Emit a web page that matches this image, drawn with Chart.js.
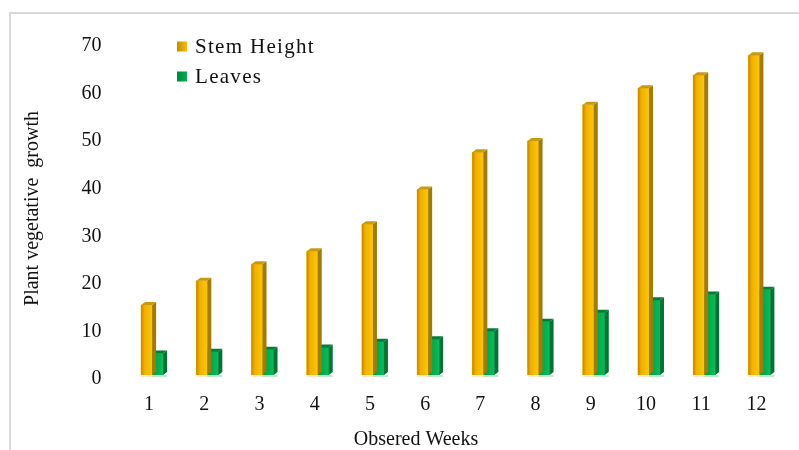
<!DOCTYPE html>
<html>
<head>
<meta charset="utf-8">
<script src="https://cdn.jsdelivr.net/npm/chart.js@4.4.1/dist/chart.umd.min.js"></script>
<style>
  html, body { margin: 0; padding: 0; background: #fff; }
  #wrap { width: 799px; height: 450px; }
</style>
</head>
<body>
<div id="wrap"><canvas id="plantChart"></canvas></div>
<script>
const weeks = ["1", "2", "3", "4", "5", "6", "7", "8", "9", "10", "11", "12"];
const stemHeight = [14.7, 19.8, 23.3, 26, 31.7, 39, 46.8, 49.2, 56.8, 60.3, 63, 67.2];
const leaves = [4.5, 4.9, 5.3, 5.8, 7, 7.5, 9.2, 11.2, 13.1, 15.7, 16.9, 17.9];
const yMin = 0, yMax = 70, yStep = 10;
const xTitle = "Obsered Weeks";
const yTitle = "Plant vegetative  growth";

const serif = "'Liberation Serif', 'Times New Roman', serif";

// colours for the fake 3D bars: front gradient stops, side, top
const looks = [
    { front: ["#c48600", "#f0b000", "#f7be00", "#fcc800"], side: "#a37b00", top: "#c79a10", floor: "rgba(240,200,120,0.35)", key: ["#f6be00", "#c98a00"] },
    { front: ["#008c3c", "#00a84c", "#00b556", "#00bf5c"], side: "#007430", top: "#007f38", floor: "rgba(0,176,80,0.25)", key: ["#00b050", "#00853c"] }
];
const depthX = 4, depthY = 3;

const framePlugin = {
    id: "frame",
    beforeDraw(chart) {
        const c = chart.ctx;
        c.save();
        c.fillStyle = "#fff";
        c.fillRect(0, 0, chart.width, chart.height);
        c.strokeStyle = "#d9d9d9";
        c.lineWidth = 2;
        c.beginPath();
        c.moveTo(10, chart.height);
        c.lineTo(10, 13);
        c.lineTo(chart.width, 13);
        c.stroke();
        c.restore();
    }
};

const bars3d = {
    id: "bars3d",
    afterDatasetDraw(chart, args) {
        const look = looks[args.index];
        const c = chart.ctx;
        c.save();
        args.meta.data.forEach(el => {
            const p = el.getProps(["x", "y", "base", "width"], true);
            const x1 = p.x - p.width / 2, x2 = p.x + p.width / 2;
            const top = p.y, base = p.base;
            // floor reflection
            c.fillStyle = look.floor;
            c.fillRect(x1, base, x2 - x1 + depthX, 2);
            // front face
            const g = c.createLinearGradient(x1, 0, x2, 0);
            g.addColorStop(0, look.front[0]);
            g.addColorStop(0.3, look.front[1]);
            g.addColorStop(0.7, look.front[2]);
            g.addColorStop(1, look.front[3]);
            c.fillStyle = g;
            c.fillRect(x1, top, x2 - x1, base - top);
            // side face
            c.fillStyle = look.side;
            c.beginPath();
            c.moveTo(x2, top);
            c.lineTo(x2 + depthX, top - depthY);
            c.lineTo(x2 + depthX, base - depthY);
            c.lineTo(x2, base);
            c.closePath();
            c.fill();
            // top face
            c.fillStyle = look.top;
            c.beginPath();
            c.moveTo(x1, top);
            c.lineTo(x1 + depthX, top - depthY);
            c.lineTo(x2 + depthX, top - depthY);
            c.lineTo(x2, top);
            c.closePath();
            c.fill();
        });
        c.restore();
    }
};

// legend in the top left corner and the x axis title (sits a bit left of centre)
const textPlugin = {
    id: "texts",
    afterDraw(chart) {
        const c = chart.ctx;
        c.save();
        c.textBaseline = "middle";
        c.font = "21px " + serif;
        c.letterSpacing = "1.3px";
        chart.data.datasets.forEach((ds, i) => {
            const y = 46.5 + i * 30;
            const g = c.createLinearGradient(177, 0, 187, 0);
            g.addColorStop(0, looks[i].key[1]);
            g.addColorStop(1, looks[i].key[0]);
            c.fillStyle = g;
            c.fillRect(177, y - 5, 10, 10);
            c.fillStyle = "#111";
            c.fillText(ds.label, 195, y + 1);
        });
        c.letterSpacing = "0px";
        c.font = "20px " + serif;
        c.textAlign = "center";
        c.fillText(xTitle, 416, 440);
        c.restore();
    }
};

const ctx = document.getElementById("plantChart").getContext("2d");

new Chart(ctx, {
    type: "bar",
    data: {
        labels: weeks,
        datasets: [
            { label: "Stem Height", data: stemHeight, backgroundColor: "#f0b000", barThickness: 11, categoryPercentage: 0.45, barPercentage: 1 },
            { label: "Leaves", data: leaves, backgroundColor: "#00a84c", barThickness: 11, categoryPercentage: 0.45, barPercentage: 1 }
        ]
    },
    options: {
        responsive: true,
        maintainAspectRatio: false,
        animation: false,
        layout: { padding: { left: 21, right: 12, top: 42, bottom: 34 } },
        plugins: {
            legend: { display: false },
            tooltip: { enabled: false }
        },
        scales: {
            x: {
                grid: { display: false, drawTicks: false },
                border: { display: false },
                ticks: { color: "#111", font: { family: serif, size: 20 }, padding: 18, labelOffset: -3 },
                afterFit: s => { s.height = 41; }
            },
            y: {
                min: yMin,
                max: yMax,
                grid: { display: false, drawTicks: false },
                border: { display: false },
                ticks: { stepSize: yStep, color: "#111", font: { family: serif, size: 20 }, padding: 23, labelOffset: 4 },
                title: {
                    display: true,
                    text: yTitle,
                    color: "#111",
                    font: { family: serif, size: 20, weight: "normal" },
                    padding: 0
                },
                afterFit: s => { s.width = 103.5; }
            }
        }
    },
    plugins: [framePlugin, bars3d, textPlugin]
});
</script>
</body>
</html>
